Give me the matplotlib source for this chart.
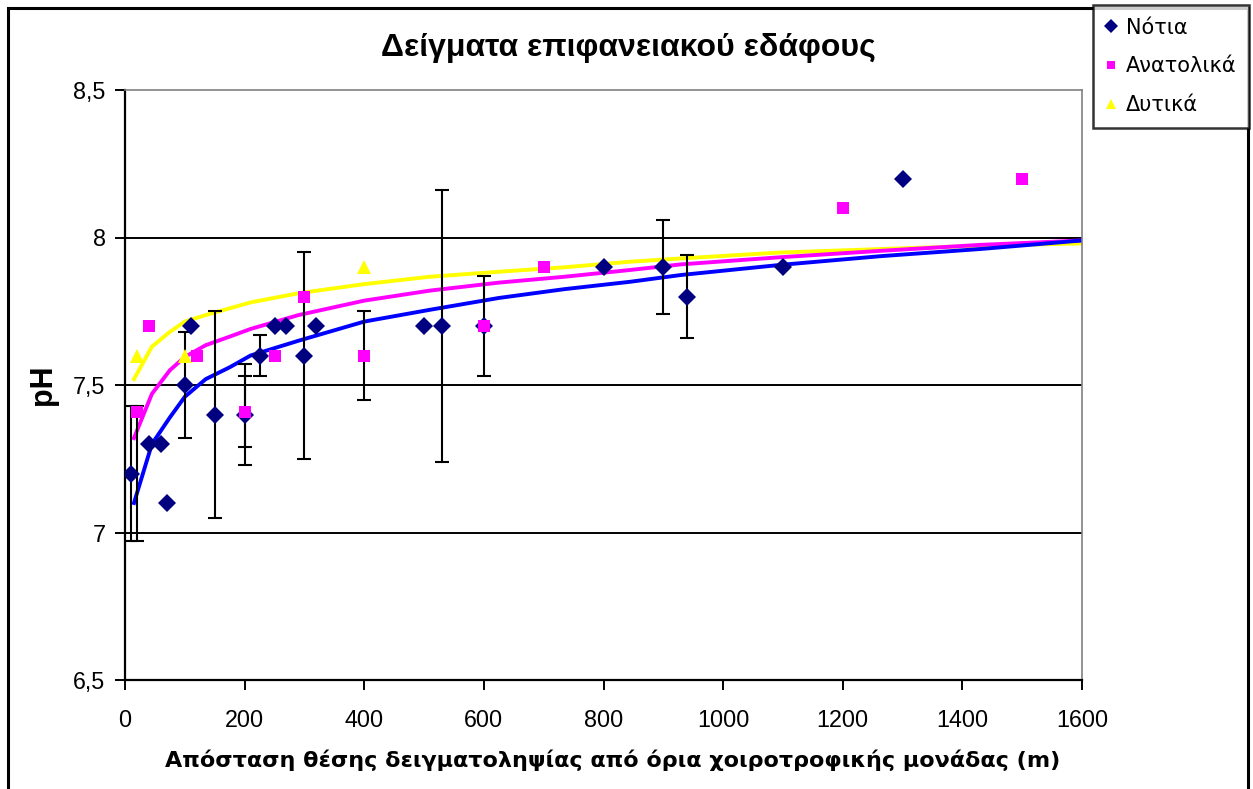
import numpy as np
import matplotlib
matplotlib.use('Agg')
import matplotlib.pyplot as plt
from matplotlib.patches import Rectangle

plt.rcParams['font.family'] = ['Liberation Sans', 'DejaVu Sans']

# Νότια
notia_x = [10, 40, 60, 70, 100, 110, 150, 200, 225, 250, 270, 300, 320, 500, 530, 600, 800, 900, 940, 1100, 1300]
notia_y = [7.2, 7.3, 7.3, 7.1, 7.5, 7.7, 7.4, 7.4, 7.6, 7.7, 7.7, 7.6, 7.7, 7.7, 7.7, 7.7, 7.9, 7.9, 7.8, 7.9, 8.2]
notia_err = [0.23, 0, 0, 0, 0.18, 0, 0.35, 0.17, 0.07, 0, 0, 0.35, 0, 0, 0.46, 0.17, 0, 0.16, 0.14, 0, 0]

# Ανατολικά
anat_x = [20, 40, 120, 200, 250, 300, 400, 600, 700, 1200, 1500]
anat_y = [7.41, 7.7, 7.6, 7.41, 7.6, 7.8, 7.6, 7.7, 7.9, 8.1, 8.2]
anat_err_lo = [0.44, 0, 0, 0.12, 0, 0, 0.15, 0, 0, 0, 0]
anat_err_hi = [0.02, 0, 0, 0.12, 0, 0, 0.15, 0, 0, 0, 0]

# Δυτικά
dyt_x = [20, 100, 400]
dyt_y = [7.6, 7.6, 7.9]

# trend curves
trend_x = [15, 45, 75, 100, 135, 175, 210, 290, 400, 510, 625, 735, 845, 930, 1095, 1265, 1430, 1600]
trend_notia = [7.10, 7.30, 7.39, 7.46, 7.52, 7.56, 7.60, 7.65, 7.715, 7.755, 7.795, 7.825, 7.85, 7.873, 7.907, 7.937, 7.961, 7.99]
trend_anat = [7.32, 7.47, 7.55, 7.595, 7.635, 7.664, 7.69, 7.737, 7.786, 7.82, 7.847, 7.867, 7.89, 7.909, 7.933, 7.955, 7.975, 7.99]
trend_dyt = [7.52, 7.63, 7.68, 7.715, 7.737, 7.76, 7.78, 7.811, 7.842, 7.867, 7.884, 7.899, 7.918, 7.929, 7.949, 7.961, 7.972, 7.98]

x_ticks = [0, 200, 400, 600, 800, 1000, 1200, 1400, 1600]
y_ticks = [6.5, 7, 7.5, 8, 8.5]
y_ticklabels = ['6,5', '7', '7,5', '8', '8,5']

W, H = 1253, 789
fig = plt.figure(figsize=(W / 100, H / 100), dpi=100)
ax = fig.add_axes([125 / W, 1 - 680 / H, (1082 - 125) / W, (680 - 90) / H])

# outer chart frame
fig.patches.append(Rectangle((8 / W, -0.02), (1248 - 8) / W, 1.02 - 8 / H,
                             transform=fig.transFigure, fill=False, edgecolor='black', lw=2.2))

for yv in [7, 7.5, 8]:
    ax.axhline(yv, color='black', lw=1.4, zorder=1)

ax.plot(trend_x, trend_dyt, color='#FFFF00', lw=2.8, zorder=2)
ax.plot(trend_x, trend_anat, color='#FF00FF', lw=2.8, zorder=2)
ax.plot(trend_x, trend_notia, color='#0000FF', lw=2.8, zorder=2)

nx = np.array(notia_x); ny = np.array(notia_y); ne = np.array(notia_err)
m = ne > 0
ax.errorbar(nx[m], ny[m], yerr=ne[m], fmt='none', ecolor='black', elinewidth=1.5, capsize=5, capthick=1.5, zorder=3)
ax_ = np.array(anat_x); ay = np.array(anat_y); alo = np.array(anat_err_lo); ahi = np.array(anat_err_hi)
m2 = (alo > 0) | (ahi > 0)
ax.errorbar(ax_[m2], ay[m2], yerr=[alo[m2], ahi[m2]], fmt='none', ecolor='black', elinewidth=1.5, capsize=5, capthick=1.5, zorder=3)

ax.plot(dyt_x, dyt_y, ls='none', marker='^', color='#FFFF00', ms=10, mew=0, zorder=4, label='Δυτικά')
ax.plot(notia_x, notia_y, ls='none', marker='D', color='#000080', ms=9, mew=0, zorder=5, label='Νότια')
ax.plot(anat_x, anat_y, ls='none', marker='s', color='#FF00FF', ms=8.5, mew=0, zorder=6, label='Ανατολικά')

ax.set_xlim(0, 1600)
ax.set_ylim(6.5, 8.5)
ax.set_xticks(x_ticks)
ax.set_yticks(y_ticks)
ax.set_yticklabels(y_ticklabels)
ax.tick_params(axis='both', direction='out', length=7, width=1.4, labelsize=16.8, color='black')
ax.tick_params(axis='x', pad=14)
ax.tick_params(axis='y', pad=7)
for s in ['left', 'bottom']:
    ax.spines[s].set_linewidth(1.6)
for s in ['top', 'right']:
    ax.spines[s].set_color('#808080')
    ax.spines[s].set_linewidth(1.2)

ax.set_ylabel('pH', fontsize=22, fontweight='bold')
ax.yaxis.set_label_coords((58 - 125) / (1082 - 125), 0.5)
fig.text(613 / W, 1 - 760 / H,
         'Απόσταση θέσης δειγματοληψίας από όρια χοιροτροφικής μονάδας (m)',
         ha='center', va='center', fontsize=16, fontweight='bold', family='DejaVu Sans')
fig.text(628 / W, 1 - 48 / H, 'Δείγματα επιφανειακού εδάφους',
         ha='center', va='center', fontsize=23, fontweight='bold')

h, l = ax.get_legend_handles_labels()
order = [1, 2, 0]
leg = fig.legend([h[i] for i in order], [l[i] for i in order], loc='upper right',
                 bbox_to_anchor=(1249 / W, 1 - 5 / H), frameon=True, fancybox=False,
                 prop={'family': 'DejaVu Sans', 'size': 15},
                 handlelength=0.6, handletextpad=0.4, borderpad=0.6, labelspacing=0.9,
                 markerscale=0.75, borderaxespad=0)
leg.get_frame().set_edgecolor('black')
leg.get_frame().set_linewidth(1.8)

fig.savefig('out.png', dpi=100)
